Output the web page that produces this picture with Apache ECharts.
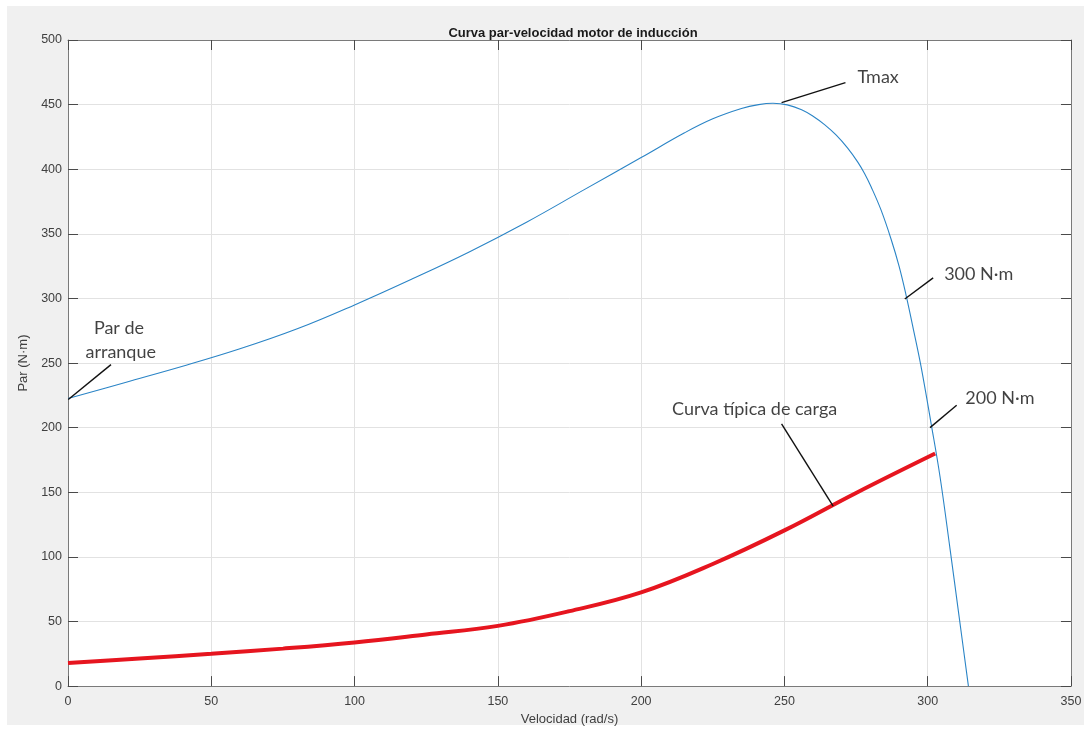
<!DOCTYPE html>
<html>
<head>
<meta charset="utf-8">
<script src="https://cdn.jsdelivr.net/npm/echarts@6/dist/echarts.min.js"></script>
<style>
  html, body { margin: 0; padding: 0; background: #ffffff; }
  #panel { position: absolute; left: 7px; top: 6px; width: 1077px; height: 719px; background: #f0f0f0; }
  #chart { position: absolute; left: 0; top: 0; width: 1091px; height: 731px; }
</style>
</head>
<body>
<div id="panel"></div>
<div id="chart"></div>
<script>
// ---- Data ----
const chartTitle = 'Curva par-velocidad motor de inducción';
const xAxisName = 'Velocidad (rad/s)';
const yAxisName = 'Par (N·m)';

// Motor torque-speed curve (blue)
const motorSpeed = [0, 20, 40, 60, 80, 100, 120, 140, 160, 180, 200, 215, 225, 235, 241, 246,
                    251, 256, 260, 264, 268, 272, 275.6, 278, 280.2, 283.7, 287.2, 290, 292.4,
                    295.3, 297.7, 301.2, 304.3, 307.8, 310.7, 314.2];
const motorTorque = [222.5, 235, 247.5, 261, 276.5, 295, 315, 336, 359, 384, 409, 428, 439, 447, 450, 451,
                     449.8, 446, 441, 434.5, 426.5, 416.5, 405.5, 396.5, 386.6, 368.5, 346, 325, 303,
                     273, 247, 203, 162, 106, 58, 0];

// Typical load curve (red)
const loadSpeed = [0, 25, 50, 75, 100, 125, 150, 175, 200, 225, 250, 275, 302.6];
const loadTorque = [17.8, 21.3, 25, 29, 33.8, 40, 46.6, 58, 72.5, 94.5, 120.5, 149.5, 180];

// Axis ticks
const xMin = 0, xMax = 350, xStep = 50;
const yMin = 0, yMax = 500, yStep = 50;

// Annotations (data coordinates)
const annotationLines = [
  [[0.1, 221.8], [15, 248.8]],
  [[249, 451.5], [271.3, 467]],
  [[292, 299.6], [301.9, 315.9]],
  [[300.8, 200], [310.1, 217.4]],
  [[267, 139.3], [249, 203]]
];
const annotationTexts = [
  ['Par de', 17.8, 276.7],
  ['arranque', 18.4, 258.1],
  ['Tmax', 282.7, 471.6],
  ['300 N·m', 317.8, 318.9],
  ['200 N·m', 325.2, 223],
  ['Curva típica de carga', 239.6, 214.6]
];

// ---- Build chart ----
const zip = (a, b) => a.map((v, i) => [v, b[i]]);
const chart = echarts.init(document.getElementById('chart'), null, { renderer: 'canvas' });

const tickColor = '#4a4a4a';
const boxColor = '#7a7a7a';
const labelFont = { fontFamily: 'Liberation Sans, Arial, sans-serif', fontSize: 12.5, color: '#404040' };

function mainAxis(min, max, step, extra) {
  return Object.assign({
    type: 'value', min: min, max: max, interval: step,
    axisLine: { show: true, lineStyle: { color: boxColor, width: 1 } },
    axisTick: { show: true, inside: true, length: 10, lineStyle: { color: tickColor, width: 1 } },
    splitLine: { show: true, lineStyle: { color: '#e2e2e2', width: 1 } },
    axisLabel: Object.assign({ show: true }, labelFont)
  }, extra);
}
function boxAxis(min, max, step, pos) {
  return {
    type: 'value', min: min, max: max, interval: step, position: pos,
    axisLine: { show: true, onZero: false, lineStyle: { color: boxColor, width: 1 } },
    axisTick: { show: true, inside: true, length: 10, lineStyle: { color: tickColor, width: 1 } },
    splitLine: { show: false },
    axisLabel: { show: false }
  };
}

chart.setOption({
  animation: false,
  title: {
    text: chartTitle, left: 568, top: 22, textAlign: 'center',
    textStyle: { fontFamily: 'Liberation Sans, Arial, sans-serif', fontSize: 13, fontWeight: 'bold', color: '#1a1a1a' }
  },
  grid: { left: 68, top: 40, right: 20, bottom: 44, show: true, backgroundColor: '#ffffff', borderWidth: 0 },
  xAxis: [
    mainAxis(xMin, xMax, xStep, {
      position: 'bottom',
      name: xAxisName, nameLocation: 'middle', nameGap: 25,
      nameTextStyle: { fontFamily: 'Liberation Sans, Arial, sans-serif', fontSize: 13, color: '#404040' },
      axisLabel: Object.assign({ show: true, margin: 9 }, labelFont)
    }),
    boxAxis(xMin, xMax, xStep, 'top')
  ],
  yAxis: [
    mainAxis(yMin, yMax, yStep, {
      position: 'left',
      name: yAxisName, nameLocation: 'middle', nameGap: 33,
      nameTextStyle: { fontFamily: 'Liberation Sans, Arial, sans-serif', fontSize: 13, color: '#404040' },
      axisLabel: Object.assign({ show: true, margin: 6 }, labelFont)
    }),
    boxAxis(yMin, yMax, yStep, 'right')
  ],
  series: [
    {
      type: 'line', name: 'Motor', data: zip(motorSpeed, motorTorque),
      xAxisIndex: 0, yAxisIndex: 0,
      showSymbol: false, smooth: 0.4,
      lineStyle: { color: '#2a84c6', width: 1.1 }, z: 3
    },
    {
      type: 'line', name: 'Carga', data: zip(loadSpeed, loadTorque),
      xAxisIndex: 0, yAxisIndex: 0,
      showSymbol: false, smooth: 0.4,
      lineStyle: { color: '#e6151f', width: 4, cap: 'butt' }, z: 2
    },
    {
      type: 'lines', coordinateSystem: 'cartesian2d',
      xAxisIndex: 0, yAxisIndex: 0,
      data: annotationLines.map(c => ({ coords: c })),
      lineStyle: { color: '#111111', width: 1.4, opacity: 1 }, z: 4
    },
    {
      type: 'scatter', xAxisIndex: 0, yAxisIndex: 0,
      symbolSize: 0, silent: true,
      data: annotationTexts.map(t => ({ value: [t[1], t[2]], name: t[0] })),
      label: {
        show: true, position: 'inside', formatter: p => p.name,
        fontFamily: 'Lato, Open Sans, sans-serif', fontSize: 18, color: '#111111'
      }, z: 5
    }
  ]
});
</script>
</body>
</html>
